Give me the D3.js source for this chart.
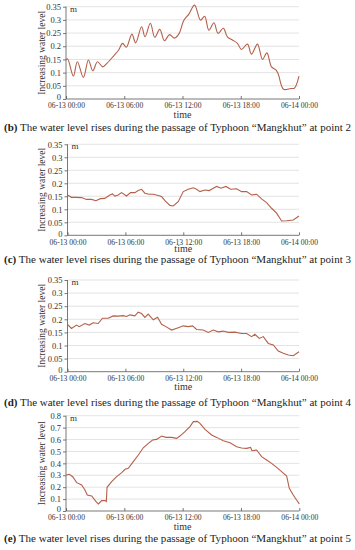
<!DOCTYPE html>
<html><head><meta charset="utf-8">
<script src="https://cdn.jsdelivr.net/npm/d3@7"></script>
<style>body{margin:0;background:#fff}svg{display:block}</style>
</head><body>
<svg id="c" width="355" height="550"></svg>
<script>
// ---- data (hours since 06-13 00:00, water level rise in m) ----
const xTickHours = [0, 6, 12, 18, 24];
const xTickLabels = ["06-13 00:00", "06-13 06:00", "06-13 12:00", "06-13 18:00", "06-14 00:00"];
const yTicksSmall = [0, 0.05, 0.1, 0.15, 0.2, 0.25, 0.3, 0.35];
const yLabelsSmall = ["0", "0.05", "0.1", "0.15", "0.2", "0.25", "0.3", "0.35"];
const yTicksLarge = [0, 0.1, 0.2, 0.3, 0.4, 0.5, 0.6, 0.7, 0.8];
const yLabelsLarge = ["0", "0.1", "0.2", "0.3", "0.4", "0.5", "0.6", "0.7", "0.8"];

const hours2 = [0,0.17,0.76,1.17,1.79,2.31,2.76,3.24,3.79,4.21,4.90,5.41,5.83,6.21,6.79,7.17,7.79,8.14,8.69,9.14,9.66,10.14,10.66,11.17,11.66,12.14,12.66,13.24,13.86,14.28,14.72,15.24,15.66,16.21,16.62,17.14,17.66,18.07,18.69,19.10,19.72,20.24,20.69,21.17,21.62,21.86,22.41,23.17,23.52,24];
const level2 = [0.148,0.152,0.087,0.141,0.082,0.148,0.107,0.141,0.122,0.135,0.163,0.185,0.211,0.196,0.246,0.213,0.274,0.236,0.287,0.234,0.264,0.221,0.244,0.231,0.249,0.299,0.322,0.356,0.299,0.314,0.261,0.289,0.249,0.268,0.236,0.224,0.211,0.188,0.208,0.170,0.208,0.150,0.175,0.122,0.110,0.095,0.037,0.040,0.041,0.087];

const hours3 = [0,0.41,0.93,1.45,1.97,2.49,2.94,3.42,3.87,4.39,4.67,4.91,5.26,5.60,6.12,6.54,6.98,7.33,7.68,8.02,8.47,8.89,9.41,9.75,10.10,10.62,10.96,11.48,12.00,12.52,13.04,13.38,13.73,14.25,14.70,15.11,15.46,15.91,16.42,16.91,17.53,18.05,18.57,19.09,19.61,20.12,20.64,21.16,21.68,22.20,22.72,23.41,24];
const level3 = [0.155,0.146,0.146,0.145,0.138,0.138,0.133,0.141,0.142,0.155,0.159,0.151,0.155,0.164,0.151,0.164,0.164,0.172,0.177,0.162,0.158,0.158,0.153,0.149,0.133,0.115,0.113,0.129,0.168,0.177,0.183,0.177,0.168,0.174,0.172,0.181,0.188,0.181,0.188,0.177,0.179,0.168,0.168,0.155,0.158,0.140,0.126,0.104,0.085,0.055,0.056,0.059,0.074];

const hours4 = [0,0.41,0.93,1.21,1.80,2.25,2.66,3.18,3.63,4.22,4.74,5.26,5.77,6.12,6.47,6.98,7.33,7.68,8.02,8.37,8.89,9.34,9.75,10.20,10.79,11.48,12.00,12.52,12.97,13.38,14.07,14.59,15.11,15.63,16.15,16.67,17.36,18.05,18.57,19.09,19.43,19.88,20.30,20.82,21.34,21.85,22.37,22.89,23.41,24];
const level4 = [0.181,0.165,0.178,0.172,0.184,0.178,0.187,0.184,0.204,0.204,0.213,0.212,0.214,0.211,0.217,0.213,0.227,0.222,0.207,0.220,0.198,0.208,0.181,0.172,0.159,0.168,0.175,0.172,0.175,0.161,0.159,0.150,0.159,0.152,0.155,0.150,0.151,0.146,0.146,0.134,0.143,0.127,0.134,0.108,0.102,0.079,0.070,0.064,0.061,0.076];

const hours5 = [0,0.34,0.69,1.10,1.61,1.95,2.19,2.64,3.09,3.33,3.67,4.01,4.15,4.22,4.70,5.21,5.73,6.07,6.41,6.92,7.44,7.95,8.47,8.91,9.32,9.84,10.28,10.87,11.38,11.72,12.24,12.75,13.10,13.51,13.78,14.30,14.98,15.50,16.18,16.87,17.55,18.07,18.58,18.99,19.13,19.61,20.12,20.64,21.15,21.67,22.18,22.70,22.97,23.38,23.72,24];
const level5 = [0.302,0.308,0.288,0.238,0.218,0.176,0.134,0.126,0.078,0.059,0.087,0.087,0.080,0.199,0.246,0.288,0.322,0.350,0.358,0.414,0.470,0.531,0.568,0.596,0.601,0.629,0.618,0.618,0.610,0.629,0.666,0.708,0.750,0.752,0.736,0.685,0.638,0.618,0.590,0.573,0.540,0.529,0.526,0.534,0.506,0.512,0.456,0.428,0.400,0.366,0.330,0.294,0.190,0.134,0.092,0.060];

const captionLetters = ["(b)", "(c)", "(d)", "(e)"];
const captionTexts = [
  " The water level rises during the passage of Typhoon \u201cMangkhut\u201d at point 2",
  " The water level rises during the passage of Typhoon \u201cMangkhut\u201d at point 3",
  " The water level rises during the passage of Typhoon \u201cMangkhut\u201d at point 4",
  " The water level rises during the passage of Typhoon \u201cMangkhut\u201d at point 5"
];

// ---- layout ----
const panels = [
  {h: hours2, v: level2, yt: yTicksSmall, yl: yLabelsSmall, max: 0.35, left: 66, right: 299, top: 6.7, bottom: 99, timeDy: 19, cap: 131, curve: d3.curveCatmullRom},
  {h: hours3, v: level3, yt: yTicksSmall, yl: yLabelsSmall, max: 0.35, left: 67.5, right: 299, top: 144.3, bottom: 235.3, timeDy: 17, cap: 262.5, curve: d3.curveLinear},
  {h: hours4, v: level4, yt: yTicksSmall, yl: yLabelsSmall, max: 0.35, left: 67.5, right: 299, top: 280, bottom: 371.7, timeDy: 18.5, cap: 405.5, curve: d3.curveLinear},
  {h: hours5, v: level5, yt: yTicksLarge, yl: yLabelsLarge, max: 0.8, left: 66, right: 299.3, top: 415.7, bottom: 511, timeDy: 19, cap: 541.5, curve: d3.curveLinear}
];

const svg = d3.select("#c");
const serif = "'Liberation Serif', 'DejaVu Serif', serif";
const lineColor = "#b4604a";

panels.forEach((p, i) => {
  const x = d3.scaleLinear().domain([0, 24]).range([p.left, p.right]);
  const y = d3.scaleLinear().domain([0, p.max]).range([p.bottom, p.top]);
  const g = svg.append("g");

  // gridlines
  g.selectAll("line.grid").data(p.yt.filter(t => t > 0)).enter().append("line")
    .attr("x1", p.left).attr("x2", p.right)
    .attr("y1", d => y(d)).attr("y2", d => y(d))
    .attr("stroke", "#dcdcdc").attr("stroke-width", 0.8);

  // y axis
  const ya = d3.axisLeft(y).tickValues(p.yt).tickSize(3).tickPadding(2)
    .tickFormat((d, k) => p.yl[k]);
  const yg = g.append("g").attr("transform", `translate(${p.left},0)`).call(ya)
    .attr("font-family", serif).attr("font-size", 8.5);
  yg.select(".domain").attr("stroke", "#555").attr("stroke-width", 0.8).attr("d", `M0,${p.bottom}V${p.top}`);
  yg.selectAll(".tick line").attr("stroke", "#555").attr("stroke-width", 0.8);
  yg.selectAll("text").style("font-family", serif).style("font-size", "8.5px").attr("fill", "#333");
  yg.selectAll(".tick").filter(d => d === 0).select("text").attr("dy", "0.1em");

  // x axis
  const xa = d3.axisBottom(x).tickValues(xTickHours).tickSize(-3).tickPadding(4)
    .tickFormat((d, k) => xTickLabels[k]);
  const xg = g.append("g").attr("transform", `translate(0,${p.bottom})`).call(xa)
    .attr("font-family", serif).attr("font-size", 7.6);
  xg.select(".domain").attr("stroke", "#555").attr("stroke-width", 0.8).attr("d", `M${p.left},0H${p.right}`);
  xg.selectAll(".tick line").attr("stroke", "#555").attr("stroke-width", 0.8);
  xg.selectAll("text").style("font-family", serif).style("font-size", "7.6px").attr("fill", "#333");

  // unit label
  g.append("text").attr("x", p.left + 4).attr("y", p.top + 5)
    .style("font-family", serif).style("font-size", "9px").attr("fill", "#333").text("m");

  // axis titles
  g.append("text").attr("transform", `translate(45,${(p.top + p.bottom) / 2}) rotate(-90)`)
    .attr("text-anchor", "middle").style("font-family", serif).style("font-size", "9.5px")
    .attr("fill", "#333").text("Increasing water level");
  g.append("text").attr("x", (p.left + p.right) / 2).attr("y", p.bottom + p.timeDy)
    .attr("text-anchor", "middle").style("font-family", serif).style("font-size", "10px")
    .attr("fill", "#333").text("time");

  // line
  const data = p.h.map((hh, k) => [hh, p.v[k]]);
  g.append("path").datum(data)
    .attr("d", d3.line().x(d => x(d[0])).y(d => y(d[1])).curve(p.curve))
    .attr("fill", "none").attr("stroke", lineColor).attr("stroke-width", 1.1);

  // caption
  const t = g.append("text").attr("x", 4).attr("y", p.cap)
    .style("font-family", serif).style("font-size", "10.6px").attr("fill", "#222")
    .attr("textLength", 347).attr("lengthAdjust", "spacingAndGlyphs");
  t.append("tspan").attr("font-weight", "bold").text(captionLetters[i]);
  t.append("tspan").text(captionTexts[i]);
});
</script>
</body></html>
